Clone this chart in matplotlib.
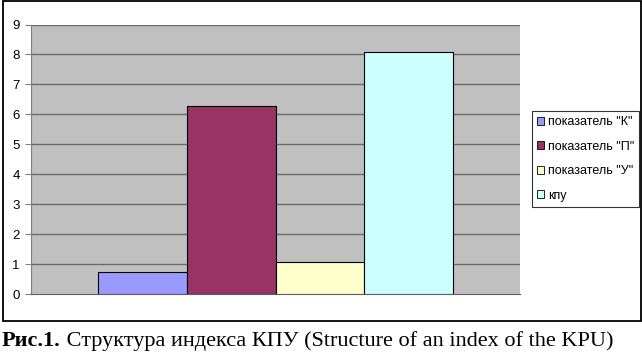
import matplotlib
matplotlib.use("Agg")
import matplotlib.pyplot as plt
from matplotlib.patches import Rectangle, Patch

series = ['показатель "К"', 'показатель "П"', 'показатель "У"', 'кпу']
values = [0.73, 6.29, 1.07, 8.09]
colors = ['#9999ff', '#993366', '#ffffcc', '#ccffff']
yticks = [0, 1, 2, 3, 4, 5, 6, 7, 8, 9]
caption_bold = 'Рис.1.'
caption_rest = ' Структура индекса КПУ (Structure of an index of the KPU)'

W, H = 642, 354
fig = plt.figure(figsize=(W / 100, H / 100), dpi=100)
fig.patch.set_facecolor('white')

# outer border
fig.patches.append(Rectangle((2.5 / W, 1 - 321 / H), 638 / W, 320 / H,
                             transform=fig.transFigure, fill=False,
                             edgecolor='black', linewidth=1.3))

ax = fig.add_axes([31 / W, (H - 294.3) / H, 489 / W, 269.8 / H])
ax.set_facecolor('#c0c0c0')
ax.set_ylim(0, 9)
ax.set_xlim(-0.5, 0.5)
bw = 0.182
for i, (s, v, c) in enumerate(zip(series, values, colors)):
    ax.bar((i - 1.5) * bw, v, width=bw, color=c, edgecolor='black',
           linewidth=0.8, label=s, zorder=3)
ax.set_yticks(yticks)
ax.set_yticklabels([str(t) for t in yticks], fontfamily='Liberation Sans', fontsize=9.5)
ax.set_xticks([])
for t in yticks[1:]:
    ax.axhline(t, color='#6a6a6a', linewidth=1.0, zorder=1)
for sp in ['top', 'right']:
    ax.spines[sp].set_visible(False)
ax.spines['left'].set_color('#808080')
ax.spines['bottom'].set_color('#606060')
ax.tick_params(axis='y', length=4, colors='#808080', labelcolor='black', pad=4)

handles = [Patch(facecolor=c, edgecolor='black', linewidth=0.6) for c in colors]
leg = fig.legend(handles, series, loc='upper left',
                 bbox_to_anchor=(531.5 / W, 1 - 111 / H),
                 prop={'family': 'Liberation Sans', 'size': 9},
                 frameon=True, fancybox=False, shadow=False,
                 handlelength=0.6, handleheight=0.6, handletextpad=0.3,
                 labelspacing=1.0, borderpad=0.4, borderaxespad=0)
leg.get_frame().set_edgecolor('black')
leg.get_frame().set_linewidth(0.8)

fig.canvas.draw()
r = fig.canvas.get_renderer()
t1 = fig.text(2 / W, 1 - 346 / H, caption_bold, fontfamily='Liberation Serif',
              fontweight='bold', fontsize=16, va='baseline')
bb = t1.get_window_extent(renderer=r)
fig.text(bb.x1 / W, 1 - 346 / H, caption_rest, fontfamily='Liberation Serif',
         fontsize=16, va='baseline')

fig.savefig('out.png', dpi=100)
